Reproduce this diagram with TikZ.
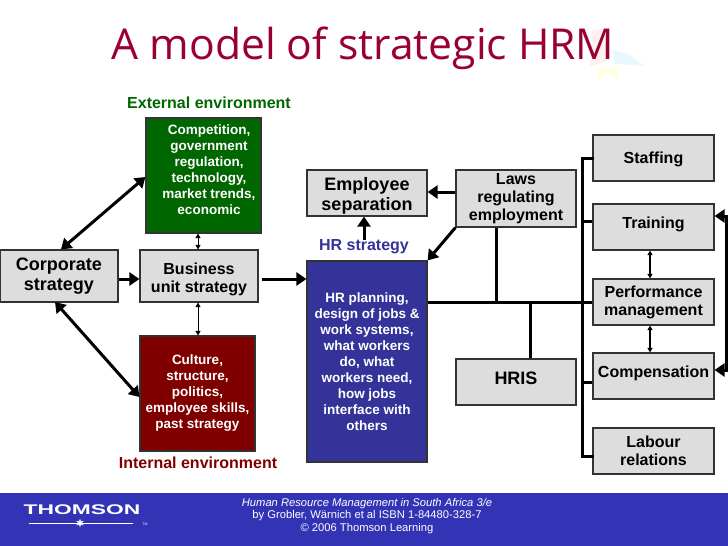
\documentclass[tikz,border=0pt]{standalone}
\usepackage{fontspec}
\setmainfont{Liberation Sans}
\newfontfamily\titlefont{Open Sans}
\usetikzlibrary{arrows.meta,shapes.geometric}
\definecolor{titlered}{HTML}{990033}
\definecolor{boxgrey}{HTML}{DDDDDD}
\definecolor{boxedge}{HTML}{333333}
\definecolor{extgreen}{HTML}{006600}
\definecolor{intred}{HTML}{800000}
\definecolor{hrblue}{HTML}{333399}
\definecolor{footblue}{HTML}{3333B5}
\tikzset{
  greybox/.style={draw=boxedge, line width=1.2pt, fill=boxgrey, align=center, inner sep=0pt, text=black, font=\bfseries\fontsize{16}{18}\selectfont},
  sidebox/.style={greybox, minimum width=121pt, minimum height=46pt},
  darkbox/.style={draw=boxedge, line width=1.2pt, align=center, inner sep=0pt, text=white, font=\bfseries\fontsize{13.5}{16}\selectfont},
  envlabel/.style={inner sep=0pt, font=\bfseries\fontsize{16}{18}\selectfont},
  bigline/.style={line width=3pt, >={Triangle[length=10pt,width=13pt]}},
  thinline/.style={line width=1pt, >={Triangle[length=4.5pt,width=5pt]}},
  footline/.style={inner sep=0pt, text=white, align=center, font=\fontsize{11.2}{12.6}\selectfont}
}
\begin{document}
\begin{tikzpicture}[x=1pt, y=-1pt]
\useasboundingbox (0,0) rectangle (728,546);
% faint star behind the title
\fill[red!6] (592,30) -- (604,28) -- (606,62) -- (590,66) -- cycle;
\fill[cyan!9] (612,50) -- (628,54) -- (645,66) -- (615,64) -- cycle;
\fill[yellow!9] (600,66) -- (616,66) -- (620,82) -- (608,74) -- (596,82) -- cycle;
\node[inner sep=0pt, text=titlered, font=\titlefont\fontsize{42.6}{50}\selectfont] (title) at (363,48) {A model of strategic HRM};
% left column
\node[envlabel, text=extgreen] (externalLabel) at (209,103) {External environment};
\node[darkbox, fill=extgreen, minimum width=115pt, minimum height=115pt] (external) at (203.5,175.5) {};
\node[inner sep=0pt, align=center, text=white, font=\bfseries\fontsize{13.5}{16}\selectfont] (externalText) at (209,170) {Competition,\\government\\regulation,\\technology,\\market trends,\\economic};
\node[greybox, minimum width=118pt, minimum height=52pt, font=\bfseries\fontsize{18}{20.5}\selectfont] (corporate) at (59,276) {Corporate\\strategy};
\node[greybox, minimum width=118pt, minimum height=52pt] (business) at (199,276) {\rule{0pt}{19pt}Business\\unit strategy};
\node[darkbox, fill=intred, minimum width=115pt, minimum height=115pt] (internal) at (197.5,393.5) {Culture,\\structure,\\politics,\\employee skills,\\past strategy};
\node[envlabel, text=intred] (internalLabel) at (198,463) {Internal environment};
% middle column
\node[greybox, minimum width=120pt, minimum height=46pt, font=\bfseries\fontsize{18}{20}\selectfont] (separation) at (367,193) {\rule{0pt}{19pt}Employee\\separation};
\node[greybox, minimum width=120pt, minimum height=57pt] (laws) at (516,198.5) {Laws\\regulating\\employment};
\node[envlabel, text=hrblue] (hrLabel) at (364,247) {HR strategy};
\node[darkbox, fill=hrblue, minimum width=120pt, minimum height=201pt] (planning) at (367,361.5) {HR planning,\\design of jobs \&\\work systems,\\what workers\\do, what\\workers need,\\how jobs\\interface with\\others};
\node[greybox, minimum width=120pt, minimum height=46pt, text depth=8pt, font=\bfseries\fontsize{18}{20}\selectfont] (hris) at (516,382) {HRIS};
% right column
\node[sidebox] (staffing) at (653.5,158) {\rule{0pt}{15pt}Staffing};
\node[sidebox, text depth=8pt] (training) at (653.5,227) {Training};
\node[sidebox] (performance) at (653.5,302) {Performance\\management};
\node[sidebox, text depth=8pt] (compensation) at (653.5,376) {Compensation};
\node[sidebox] (labour) at (653.5,451) {Labour\\relations};
% points where the lines meet
\coordinate (busTop) at (582,158);
\coordinate (busTraining) at (582,221);
\coordinate (busCompensation) at (582,382);
\coordinate (busBottom) at (582,456);
\coordinate (lawsDrop) at (496,301);
\coordinate (hrisRise) at (530,301);
\coordinate (feedbackTop) at (726,216);
\coordinate (feedbackBottom) at (726,370);
% arrows
\draw[bigline, <->] (corporate.north) ++(2,0) -- (external.west |- 0,177);
\draw[bigline, <->] (55,302) -- (internal.west |- 0,397);
\draw[bigline, ->] (corporate.east |- 0,279) -- (business.west |- 0,279);
\draw[bigline, ->] (business.east |- 0,279) ++(3,0) -- (planning.west |- 0,279);
\draw[thinline, <->] (business.north) ++(-1,0) -- (external.south -| 198,0);
\draw[thinline, <->] (business.south) ++(-1,0) -- (internal.north -| 198,0);
\draw[bigline, ->] (laws.west |- 0,192) -- (separation.east |- 0,192);
\draw[bigline, ->] (laws.south west) -- (planning.north east);
\draw[bigline, ->] (hrLabel.north) -- (hrLabel.north |- separation.south);
\draw[bigline] (planning.east |- performance.west) -- (performance.west);
\draw[bigline] (lawsDrop |- laws.south) -- (lawsDrop);
\draw[bigline] (hrisRise |- hris.north) -- (hrisRise);
\draw[bigline, line cap=rect] (staffing.west) -- (busTop) -- (busBottom) -- (busBottom -| labour.west);
\draw[bigline] (busTraining) -- (busTraining -| training.west);
\draw[bigline] (busCompensation) -- (busCompensation -| compensation.west);
\draw[thinline, line width=1.2pt, <->] (training.south -| 650,0) -- (performance.north -| 650,0);
\draw[thinline, line width=1.2pt, <->] (performance.south -| 650,0) -- (compensation.north -| 650,0);
\draw[bigline, <->] (training.east |- feedbackTop) -- (feedbackTop) -- (feedbackBottom) -- (compensation.east |- feedbackBottom);
% footer
\fill[footblue] (0,493) rectangle (728,546);
\node[inner sep=0pt, text=white, xscale=1.63, font=\bfseries\fontsize{14}{14}\selectfont] (logoName) at (82,510) {THOMSON};
\coordinate (logoLeft) at (29,523);
\coordinate (logoRight) at (133,523);
\draw[white, line width=0.8pt] (logoLeft) -- (logoRight);
\node[star, star points=6, star point ratio=2.5, fill=white, inner sep=0pt, minimum size=9pt] (logoStar) at (80,523) {};
\node[inner sep=0pt, text=white, font=\fontsize{3.5}{4}\selectfont] (logoMark) at (145,524) {TM};
\node[footline] (footerText) at (367,516) {\textit{Human Resource Management in South Africa 3/e}\\by Grobler, Wärnich et al ISBN 1-84480-328-7\\© 2006 Thomson Learning};
\end{tikzpicture}
\end{document}
